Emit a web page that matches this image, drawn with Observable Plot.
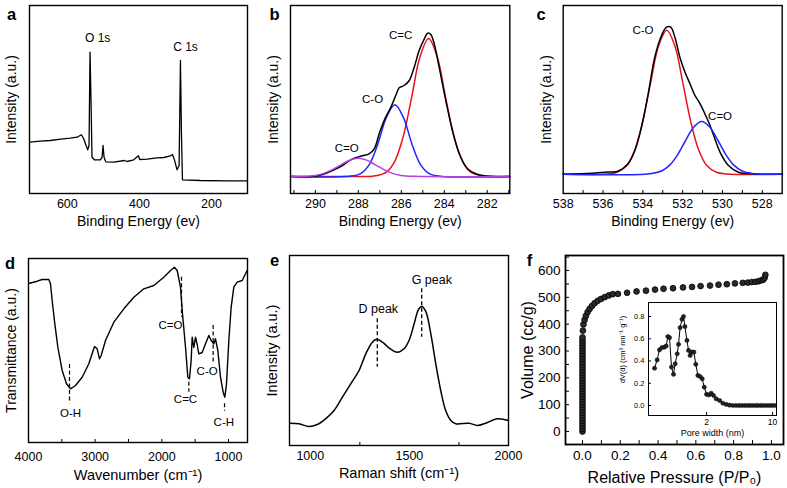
<!DOCTYPE html>
<html><head><meta charset="utf-8">
<script src="https://cdn.jsdelivr.net/npm/d3@7"></script>
<script src="https://cdn.jsdelivr.net/npm/@observablehq/plot@0.6"></script>
<style>
html,body{margin:0;padding:0;background:#fff;}
#fig{position:relative;width:787px;height:488px;overflow:hidden;background:#fff;}
#fig svg{position:absolute;overflow:visible;}
</style></head><body><div id="fig"></div>
<script>
// ---------- (a) XPS survey ----------
const surveyBE = [705,675,647,619,592,573,561,554.6,549,543.5,539.8,537,534.3,531.5,525,508.3,503.7,500.9,498.1,493.5,471.3,441.7,434.3,415.8,402.8,399.1,378.7,350.9,332.4,313.9,308.3,302.8,295.4,289.8,286.1,283.3,280.6,230.6,156.5,100.8];
const surveyInt = [51.3,52.3,53,54.3,55.3,56.3,58.7,54.7,49,43.7,48,141.3,93,36.3,33.7,33.7,36.3,48,36.3,31.7,31.3,33,32,33.7,37.7,34,34.3,35.7,36,37.7,39,33.7,23.7,28,133,59.7,13.7,13,12.7,12.7];
const surveyTicks = [600,400,200];
const surveyLabels = [{t:"O 1s", x:515.8, y:155.3},{t:"C 1s", x:272, y:146.3}];

// ---------- (b) C 1s ----------
const c1sBE  = [291.12,290.14,289.67,289.21,288.74,288.36,288.04,287.81,287.5,287.26,287.03,286.8,286.49,286.26,286.1,285.87,285.63,285.4,285.17,284.93,284.78,284.63,284.47,284.24,283.93,283.62,283.3,282.92,282.53,282.14,280.96];
const c1sInt = [17,17,19,23,28,33.7,36.3,37.7,39.7,44.7,59.7,73,86.3,98,105.7,108,113,126.3,143,154.7,160.3,159,149.7,126.3,93,63,39.7,24.7,19.7,17.7,17];
const c1sCC_BE  = [291.16,288.0,287.33,286.73,286.33,285.93,285.53,285.13,284.73,284.33,283.93,283.53,283.13,282.73,282.13,280.95];
const c1sCC_Int = [17,17,17.3,20.9,31.2,55.4,95.1,136.7,155,136.7,95.1,55.4,31.2,20.9,17.3,17];
const c1sCO_BE  = [291.16,288.4,287.9,287.5,287.1,286.7,286.3,285.9,285.5,285.1,284.7,284.2,280.95];
const c1sCO_Int = [17,17.3,19.9,28.7,49.1,75.9,88.7,75.9,49.1,28.7,19.9,17.3,17];
const c1sCdO_BE  = [291.16,290.61,290.01,289.61,289.21,288.81,288.41,288.01,287.61,287.21,286.81,286.41,286.01,285.41,280.95];
const c1sCdO_Int = [17,17.2,18.1,20.1,23.8,28.7,33.4,35.3,33.4,28.7,23.8,20.1,18.1,17.2,17];
const c1sTicks = [290,288,286,284,282];
const c1sMinor = [291,290,289,288,287,286,285,284,283,282,281];
const c1sLabels = [{t:"C=C", x:286.03, y:158},{t:"C-O", x:287.34, y:94},{t:"C=O", x:288.54, y:44.7}];

// ---------- (c) O 1s ----------
const o1sBE  = [538,536.59,535.92,535.25,534.74,534.4,534.07,533.73,533.4,533.06,532.81,532.6,532.39,532.14,531.88,531.63,531.38,531.17,530.92,530.66,530.41,530.08,529.7,529.2,528.52,526.98];
const o1sInt = [19.3,20.3,21.3,22.3,29.7,43,66.3,99.7,136.3,158,166.3,166.3,156.3,136.3,121.3,109.7,98,91.3,81.3,69.7,56.3,39.7,28,21.3,19.7,19.3];
const o1sCO_BE  = [538,535.8,535.3,534.8,534.4,534.0,533.6,533.2,532.8,532.4,532.0,531.6,531.2,530.8,530.3,529.8,527];
const o1sCO_Int = [19.3,19.6,21.2,28.3,43.8,72.4,111.7,148.2,163.3,148.2,111.7,72.4,43.8,28.3,21.2,19.6,19.3];
const o1sCdO_BE  = [538,533.64,533.04,532.64,532.24,531.84,531.44,531.04,530.64,530.24,529.84,529.44,529.04,528.44,527];
const o1sCdO_Int = [19.3,19.8,22.8,28.6,39.2,53.5,66.6,72,66.6,53.5,39.2,28.6,22.8,19.8,19.3];
const o1sTicks = [538,536,534,532,530,528];
const o1sMinor = [537,536,535,534,533,532,531,530,529,528];
const o1sLabels = [{t:"C-O", x:533.99, y:163},{t:"C=O", x:530.12, y:77.3}];

// ---------- (d) FTIR ----------
const irWN = [3985,3870,3795,3695,3670,3645,3605,3560,3495,3430,3370,3295,3195,3095,3010,2970,2935,2910,2845,2720,2570,2420,2270,2120,1970,1870,1810,1770,1720,1690,1645,1610,1585,1560,1545,1520,1495,1470,1445,1395,1345,1295,1260,1220,1195,1160,1120,1080,1055,1030,995,960,920,870,795,720];
const irT  = [159.3,161.3,163,163,158.7,142,118.7,95.3,72,58.7,53.7,57,65.3,78.7,96,93.7,83.7,87,102,120.3,133.7,145.3,153.7,157,165.3,172,175.3,172,155.3,128.7,95.3,65.3,63.7,82,105.3,95,105.3,98,88.7,90,98.7,107,102,98.7,103.7,92,65.3,50.3,45.3,58.7,102,135.3,155.3,160.3,162,172];
const irTicks = [4000,3000,2000,1000];
const irMinor = [3500,3000,2500,2000,1500,1000];
const irMarks = [{x:3385,y1:78,y2:38.7},{x:1705,y1:165.3,y2:125.3},{x:1595,y1:60.3,y2:50.3},{x:1230,y1:117,y2:78.7},{x:1060,y1:38.7,y2:31.3}];
const irLabels = [{t:"O-H",x:3370,y:28.7},{t:"C=O",x:1870,y:117},{t:"C=C",x:1645,y:42.7},{t:"C-O",x:1320,y:71},{t:"C-H",x:1070,y:20.3}];

// ---------- (e) Raman ----------
const ramanShift = [897,943,993,1035,1077,1120,1162,1204,1246,1280,1313,1335,1364,1397,1439,1473,1498,1524,1545,1562,1582,1608,1633,1658,1683,1709,1734,1801,1843,1885,1944,2000];
const ramanInt   = [22.3,21.7,19,21,26.7,35,48.3,61.7,75,91.7,103.3,106.3,103.3,97.7,93.3,96.7,105,121.7,135.7,139,134.3,111.7,81.7,55,35,25,21.7,22.3,20,22.3,26.7,25];
const ramanTicks = [1000,1500,2000];
const ramanMinor = [1250,1750];
const ramanMarks = [{x:1338,y1:126.7,y2:78.3},{x:1562,y1:156.7,y2:108.3}];
const ramanLabels = [{t:"D peak",x:1343,y:136.7},{t:"G peak",x:1613,y:165.7}];

// ---------- (f) N2 isotherm ----------
const isoP = [0,0,0,0,0,0,0,0,0,0,0,0,0,0,0,0,0,0,0,0,0,0,0,0,0,0,0,0,0,0,0,0,0,0,0,0,
  0.002,0.005,0.011,0.018,0.027,0.0375,0.05,0.064,0.08,0.098,0.118,0.139,0.16,0.1875,0.236,0.286,0.336,0.384,0.429,0.479,0.532,0.58,0.625,0.675,0.72,0.764,0.807,0.848,0.875,0.896,0.916,0.932,0.946,0.957,0.964,0.968];
const isoV = [0,10,20,30,40,50,60,70,80,90,100,110,120,130,140,150,160,170,180,190,200,210,220,230,240,250,260,270,280,290,300,310,320,330,340,351,
  376,399,416,431,445,457,468,478,487,494,501,507,512,513,517,522,525,529,532,534,537,539,542,544,547,549,552,554,555,557,558,560,563,566,573,584];
const isoTicksX = [0,0.2,0.4,0.6,0.8,1.0];
const isoMinorX = [0,0.1,0.2,0.3,0.4,0.5,0.6,0.7,0.8,0.9,1.0];
const isoTicksY = [0,100,200,300,400,500,600];
const isoMinorY = [0,50,100,150,200,250,300,350,400,450,500,550,600,650];
const poreWidth = [0.563,0.60,0.635,0.673,0.718,0.748,0.779,0.811,0.851,0.894,0.931,0.978,1.01,1.05,1.10,1.14,1.18,1.24,1.29,1.34,1.40,1.47,1.54,1.62,1.71,1.80,1.89,2.0,2.12,2.24,2.37,2.53,2.75,2.98,3.23,3.5,3.8,4.1,4.4,4.7,5.05,5.4,5.75,6.15,6.6,7.0,7.5,8.0,8.6,9.2,9.8,10.5];
const poreDV    = [0.335,0.41,0.50,0.52,0.525,0.535,0.62,0.61,0.345,0.28,0.375,0.465,0.55,0.70,0.775,0.80,0.71,0.585,0.495,0.45,0.48,0.48,0.37,0.27,0.26,0.24,0.165,0.10,0.095,0.11,0.09,0.06,0.045,0.02,0.01,0.003,0,0,0,0,0,0,0,0,0,0,0,0,0,0,0,0];
const poreTicksX = [2,10];
const poreTicksY = [0,0.2,0.4,0.6,0.8];

// ---------- helpers ----------
const FONT = '"Liberation Sans", Arial, Helvetica, sans-serif';
const RED = "#e8141c", BLUE = "#2323ff", PURPLE = "#b040e8";
const fig = document.getElementById("fig");
const zip = (xs, ys) => xs.map((x, i) => ({x, y: ys[i]}));

function panel(o) {
  const svg = Plot.plot({
    width: o.width, height: o.height,
    marginLeft: o.mL, marginRight: o.mR, marginTop: o.mT, marginBottom: o.mB,
    x: {domain: o.xDomain, type: o.xType || "linear"},
    y: {domain: o.yDomain, axis: null},
    style: {fontFamily: FONT, color: "#000", background: "transparent", overflow: "visible"},
    marks: o.marks
  });
  svg.style.left = o.left + "px";
  svg.style.top = o.top + "px";
  fig.appendChild(svg);
}
const frameMark = (sw = 1.4) => Plot.frame({stroke: "#000", strokeWidth: sw});
const xTitle = (t, dy, fs) => Plot.text([t], {frameAnchor: "bottom", dy, fontSize: fs, lineAnchor: "middle"});
const yTitle = (t, dx, fs) => Plot.text([t], {frameAnchor: "left", dx, rotate: -90, fontSize: fs, lineAnchor: "middle", textAnchor: "middle"});
const letter = (t, dx, dy) => Plot.text([t], {frameAnchor: "top-left", dx, dy, fontSize: 16.5, fontWeight: "bold", lineAnchor: "middle", textAnchor: "middle"});
const xLabels = (ticks, pad, fs, fmt) => Plot.axisX({ticks, tickSize: 0, tickPadding: pad, fontSize: fs, label: null, tickFormat: fmt || (d => String(d))});
const xTicksIn = (ticks, frameH, len = 4) => Plot.ruleX(ticks, {insetTop: frameH - len, stroke: "#000", strokeWidth: 1});
const yTicksIn = (ticks, frameW, len = 4) => Plot.ruleY(ticks, {insetRight: frameW - len, stroke: "#000", strokeWidth: 1});
const peakText = (labels, fs) => Plot.text(labels, {x: "x", y: "y", text: "t", fontSize: fs});
const curve = (xs, ys, stroke, sw = 1.3, c = "linear") => Plot.line(zip(xs, ys), {x: "x", y: "y", stroke, strokeWidth: sw, curve: c});

// (a)
panel({left: 0, top: 0, width: 262, height: 240, mL: 29, mR: 15, mT: 5, mB: 47,
  xDomain: [705, 100], yDomain: [0, 188],
  marks: [
    curve(surveyBE, surveyInt, "#000", 1.3),
    frameMark(),
    xLabels(surveyTicks, 5.4, 12.5),
    peakText(surveyLabels, 12),
    xTitle("Binding Energy (ev)", 28, 14),
    yTitle("Intensity (a.u.)", -18, 14),
    letter("a", -18, 9.5)
  ]});

// (b)
panel({left: 262, top: 0, width: 262, height: 240, mL: 28, mR: 14.7, mT: 5, mB: 47,
  xDomain: [291.16, 280.95], yDomain: [0, 188],
  marks: [
    curve(c1sCC_BE, c1sCC_Int, RED, 1.5, "catmull-rom"),
    curve(c1sCO_BE, c1sCO_Int, BLUE, 1.5, "catmull-rom"),
    curve(c1sBE, c1sInt, "#000", 1.5, "catmull-rom"),
    curve(c1sCdO_BE, c1sCdO_Int, PURPLE, 1.5, "catmull-rom"),
    frameMark(),
    xTicksIn(c1sMinor, 188, 3),
    xLabels(c1sTicks, 5.4, 12.5),
    peakText(c1sLabels, 11.5),
    xTitle("Binding Energy (ev)", 28, 14),
    yTitle("Intensity (a.u.)", -17, 14),
    letter("b", -16, 9)
  ]});

// (c)
panel({left: 524, top: 0, width: 263, height: 240, mL: 38.7, mR: 5.3, mT: 5, mB: 47,
  xDomain: [538, 527], yDomain: [0, 188],
  marks: [
    curve(o1sCO_BE, o1sCO_Int, RED, 1.5, "catmull-rom"),
    curve(o1sBE, o1sInt, "#000", 1.5, "catmull-rom"),
    curve(o1sCdO_BE, o1sCdO_Int, BLUE, 1.5, "catmull-rom"),
    frameMark(),
    xTicksIn(o1sMinor, 188, 3),
    xLabels(o1sTicks, 5.4, 12.5),
    peakText(o1sLabels, 11.5),
    xTitle("Binding Energy (ev)", 28, 14),
    yTitle("Intensity (a.u.)", -17, 14),
    letter("c", -22, 9.5)
  ]});

// (d)
panel({left: 0, top: 240, width: 262, height: 248, mL: 28, mR: 15, mT: 18, mB: 46,
  xDomain: [4000, 715], yDomain: [0, 184],
  marks: [
    Plot.ruleX(irMarks, {x: "x", y1: "y1", y2: "y2", stroke: "#000", strokeWidth: 1.2, strokeDasharray: "4,2.5"}),
    curve(irWN, irT, "#000", 1.4),
    frameMark(),
    xTicksIn(irMinor, 184, 3),
    xLabels(irTicks, 9.7, 12.5),
    peakText(irLabels, 11.5),
    xTitle("Wavenumber (cm\u207B\u00B9)", 33, 14.5),
    yTitle("Transmittance (a.u.)", -17, 14),
    letter("d", -18.5, 5)
  ]});

// (e)
panel({left: 262, top: 240, width: 262, height: 248, mL: 27, mR: 16, mT: 15, mB: 43,
  xDomain: [895, 2000], yDomain: [0, 190],
  marks: [
    Plot.ruleX(ramanMarks, {x: "x", y1: "y1", y2: "y2", stroke: "#000", strokeWidth: 1.3, strokeDasharray: "4,2.5"}),
    curve(ramanShift, ramanInt, "#000", 1.5, "catmull-rom"),
    frameMark(),
    xTicksIn(ramanMinor, 190, 3),
    xLabels(ramanTicks, 5.5, 12.5),
    peakText(ramanLabels, 12.5),
    xTitle("Raman shift (cm\u207B\u00B9)", 27.5, 14.5),
    yTitle("Intensity (a.u.)", -17, 14.5),
    letter("e", -15, 5.5)
  ]});

// (f) main
panel({left: 524, top: 240, width: 263, height: 248, mL: 41, mR: 4, mT: 15, mB: 44,
  xDomain: [-0.09, 1.064], yDomain: [-48.5, 656],
  marks: [
    Plot.dot(zip(isoP, isoV), {x: "x", y: "y", r: 2.9, fill: "#2a2a2a", stroke: "#000", strokeWidth: 0.8}),
    frameMark(1.8),
    xTicksIn(isoMinorX, 189, 4),
    yTicksIn(isoMinorY, 218, 4),
    xLabels(isoTicksX, 6, 13.5, d => d.toFixed(1)),
    Plot.axisY({ticks: isoTicksY, tickSize: 0, tickPadding: 5, fontSize: 13.5, label: null}),
    xTitle("Relative Pressure (P/P\u2080)", 33, 16),
    yTitle("Volume (cc/g)", -38, 16),
    letter("f", -36, 5)
  ]});

// (f) inset
panel({left: 600, top: 292, width: 182, height: 150, mL: 48, mR: 6, mT: 10, mB: 27,
  xDomain: [0.486, 11], xType: "log", yDomain: [-0.09, 0.926],
  marks: [
    Plot.frame({fill: "#fff", stroke: "#000", strokeWidth: 1}),
    Plot.line(zip(poreWidth, poreDV), {x: "x", y: "y", stroke: "#000", strokeWidth: 1}),
    Plot.dot(zip(poreWidth, poreDV), {x: "x", y: "y", r: 2.1, fill: "#222", stroke: "#000", strokeWidth: 0.5}),
    xTicksIn(poreTicksX, 113, 3),
    yTicksIn(poreTicksY, 128, 3),
    xLabels(poreTicksX, 3.5, 8.5),
    Plot.axisY({ticks: poreTicksY, tickSize: 0, tickPadding: 4, fontSize: 7.5, label: null, tickFormat: d => d.toFixed(1)}),
    xTitle("Pore width (nm)", 18, 9),
    Plot.text(["dV(d) (cm\u00B3 nm\u207B\u00B9 g\u207B\u00B9)"], {frameAnchor: "left", dx: -25.5, dy: -9.5, rotate: -90, fontSize: 7.5, lineAnchor: "middle", textAnchor: "middle"})
  ]});
</script></body></html>
